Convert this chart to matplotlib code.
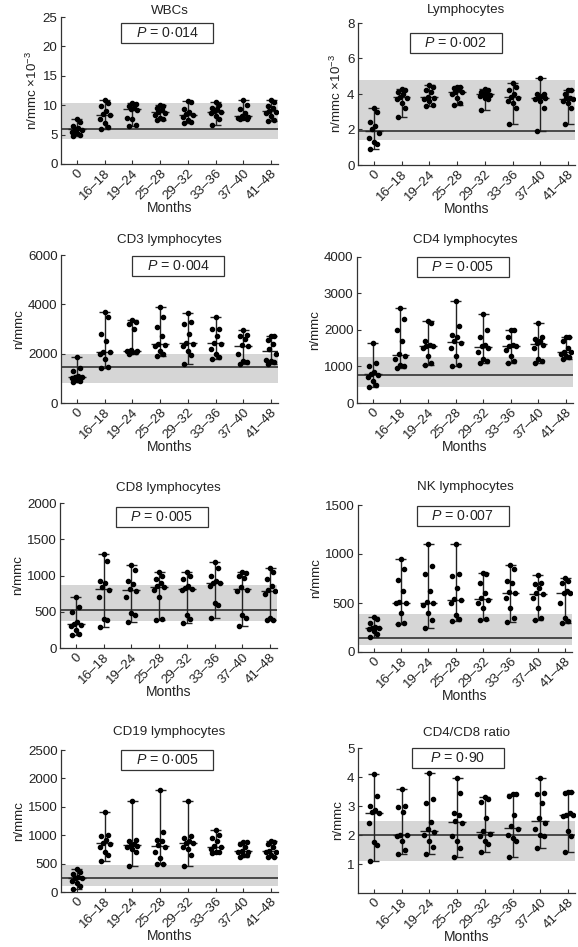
import numpy as np
import matplotlib
matplotlib.use("Agg")
import matplotlib.pyplot as plt
from matplotlib.patches import Rectangle

plt.rcParams['font.family'] = ['Liberation Sans', 'DejaVu Sans']
plt.rcParams['mathtext.fontset'] = 'custom'
plt.rcParams['mathtext.rm'] = 'Liberation Sans'
plt.rcParams['mathtext.it'] = 'Liberation Sans:italic'

months = ['0', '16–18', '19–24', '25–28', '29–32', '33–36', '37–40', '41–48']

titles = ['WBCs', 'Lymphocytes', 'CD3 lymphocytes', 'CD4 lymphocytes',
          'CD8 lymphocytes', 'NK lymphocytes', 'CD19 lymphocytes', 'CD4/CD8 ratio']
pvalues = ['0·014', '0·002', '0·004', '0·005', '0·005', '0·007', '0·005', '0·90']
ylabels = ['n/mmc ×10$^{-3}$', 'n/mmc ×10$^{-3}$', 'n/mmc', 'n/mmc',
           'n/mmc', 'n/mmc', 'n/mmc', 'n/mmc']

# reference range (band low, band high) and reference line
ref_low = [4.2, 1.4, 800, 450, 370, 70, 100, 1.1]
ref_high = [10.4, 4.8, 2000, 1250, 870, 390, 470, 2.5]
ref_line = [5.9, 1.9, 1450, 780, 530, 140, 250, 2.0]

yticks = [[0, 5, 10, 15, 20, 25], [0, 2, 4, 6, 8], [0, 2000, 4000, 6000],
          [0, 1000, 2000, 3000, 4000], [0, 500, 1000, 1500, 2000],
          [0, 500, 1000, 1500], [0, 500, 1000, 1500, 2000, 2500], [1, 2, 3, 4, 5]]
ylims = [(0, 25), (0, 8), (0, 6000), (0, 4000), (0, 2000), (0, 1500), (0, 2500), (0, 5)]

wbc = [
    [4.8, 5.0, 5.2, 5.5, 5.8, 6.0, 6.1, 6.4, 7.2, 7.7],
    [6.0, 6.3, 7.0, 7.7, 8.3, 8.5, 9.0, 9.8, 10.4, 10.9],
    [6.5, 6.6, 7.7, 7.9, 9.2, 9.4, 9.5, 9.8, 10.2, 10.3],
    [7.4, 7.6, 7.8, 8.4, 8.7, 8.9, 9.2, 9.5, 9.8, 10.0],
    [6.9, 7.2, 7.5, 8.0, 8.3, 8.5, 8.8, 9.3, 10.5, 10.7],
    [6.7, 7.6, 8.2, 8.6, 8.8, 9.0, 9.3, 9.6, 10.0, 10.6],
    [7.6, 7.7, 7.8, 7.9, 8.0, 8.2, 8.6, 9.3, 10.0, 10.9],
    [7.3, 7.4, 8.1, 8.7, 8.9, 9.0, 9.5, 9.9, 10.6, 10.9],
]
lymph = [
    [0.9, 1.2, 1.3, 1.5, 1.8, 2.0, 2.2, 2.4, 3.0, 3.2],
    [2.7, 3.2, 3.5, 3.7, 3.8, 3.85, 4.0, 4.1, 4.2, 4.3],
    [3.3, 3.4, 3.6, 3.7, 3.8, 3.85, 4.1, 4.2, 4.4, 4.5],
    [3.4, 3.5, 3.8, 4.0, 4.1, 4.1, 4.3, 4.35, 4.4, 4.4],
    [3.1, 3.7, 3.8, 3.9, 3.95, 4.0, 4.0, 4.1, 4.2, 4.3],
    [2.3, 3.2, 3.5, 3.6, 3.8, 3.85, 4.0, 4.2, 4.4, 4.6],
    [1.9, 3.2, 3.6, 3.7, 3.8, 3.8, 3.9, 4.0, 4.0, 4.9],
    [2.3, 3.2, 3.5, 3.6, 3.7, 3.75, 3.8, 4.0, 4.2, 4.2],
]
cd3 = [
    [850, 900, 950, 1000, 1050, 1050, 1100, 1300, 1400, 1850],
    [1400, 1450, 1800, 2000, 2050, 2050, 2500, 2800, 3500, 3700],
    [2000, 2050, 2050, 2100, 2100, 2150, 3000, 3200, 3300, 3350],
    [1900, 2000, 2100, 2300, 2350, 2400, 2700, 3100, 3500, 3900],
    [1600, 1950, 2100, 2300, 2400, 2450, 2800, 3200, 3300, 3650],
    [1800, 1850, 2000, 2200, 2400, 2450, 2700, 3000, 3000, 3500],
    [1600, 1650, 1700, 2000, 2300, 2350, 2600, 2700, 2750, 2950],
    [1600, 1650, 1700, 1750, 2000, 2200, 2400, 2550, 2700, 2700],
]
cd4 = [
    [450, 500, 600, 700, 780, 790, 850, 1000, 1100, 1650],
    [950, 1000, 1050, 1200, 1300, 1350, 1700, 2000, 2300, 2600],
    [1050, 1100, 1300, 1500, 1550, 1560, 1600, 1700, 2200, 2250],
    [1000, 1050, 1300, 1500, 1650, 1700, 1800, 1850, 2100, 2800],
    [1100, 1150, 1200, 1400, 1500, 1550, 1600, 1800, 2000, 2450],
    [1100, 1150, 1300, 1450, 1550, 1560, 1600, 1800, 2000, 2000],
    [1100, 1150, 1200, 1500, 1600, 1650, 1700, 1750, 1800, 2200],
    [1200, 1250, 1300, 1350, 1400, 1400, 1500, 1700, 1800, 1800],
]
cd8 = [
    [180, 200, 250, 300, 320, 330, 360, 500, 560, 700],
    [290, 380, 400, 700, 800, 840, 900, 930, 1200, 1300],
    [360, 450, 480, 700, 790, 810, 880, 920, 1080, 1140],
    [390, 400, 700, 800, 840, 850, 900, 950, 1000, 1050],
    [350, 400, 450, 800, 810, 830, 850, 950, 1000, 1050],
    [410, 600, 620, 850, 900, 900, 920, 1000, 1100, 1190],
    [310, 420, 450, 780, 800, 840, 960, 1000, 1040, 1050],
    [380, 390, 420, 750, 780, 800, 850, 950, 1050, 1110],
]
nk = [
    [150, 180, 210, 230, 240, 240, 260, 300, 340, 360],
    [290, 300, 400, 500, 500, 510, 620, 730, 850, 950],
    [240, 330, 400, 480, 500, 510, 620, 800, 880, 1100],
    [320, 340, 380, 500, 530, 540, 650, 780, 800, 1100],
    [330, 340, 450, 500, 530, 550, 600, 700, 800, 810],
    [310, 350, 450, 550, 600, 610, 700, 720, 850, 890],
    [330, 350, 450, 550, 590, 600, 650, 690, 700, 790],
    [300, 320, 350, 500, 600, 600, 620, 700, 720, 760],
]
cd19 = [
    [60, 100, 150, 200, 240, 250, 260, 310, 350, 400],
    [550, 650, 700, 800, 850, 870, 920, 980, 1000, 1410],
    [450, 700, 750, 800, 810, 830, 850, 900, 920, 1600],
    [490, 500, 600, 700, 800, 820, 900, 920, 1060, 1800],
    [450, 650, 750, 800, 860, 870, 900, 950, 980, 1610],
    [680, 700, 700, 750, 790, 810, 900, 950, 1000, 1100],
    [620, 650, 660, 700, 710, 730, 800, 850, 880, 880],
    [620, 620, 650, 700, 710, 730, 800, 850, 880, 900],
]
ratio = [
    [1.1, 1.65, 1.75, 2.4, 2.75, 2.8, 2.85, 3.0, 3.35, 4.1],
    [1.35, 1.5, 1.8, 1.95, 2.0, 2.0, 2.8, 2.95, 3.0, 3.6],
    [1.35, 1.6, 1.8, 2.0, 2.1, 2.2, 2.45, 3.1, 3.25, 4.15],
    [1.25, 1.55, 1.8, 1.95, 2.4, 2.5, 2.7, 2.75, 3.45, 3.95],
    [1.4, 1.7, 1.8, 1.95, 2.05, 2.15, 2.6, 3.15, 3.25, 3.3],
    [1.25, 1.8, 1.9, 2.0, 2.2, 2.3, 2.7, 3.35, 3.4, 3.4],
    [1.55, 1.95, 2.0, 2.2, 2.4, 2.6, 3.1, 3.4, 3.45, 3.95],
    [1.4, 1.95, 2.15, 2.65, 2.7, 2.7, 2.75, 3.45, 3.5, 3.5],
]
datasets = [wbc, lymph, cd3, cd4, cd8, nk, cd19, ratio]

# layout (pixels, 578 x 947 figure)
W, H = 578, 947
axes_px = [  # left, top, right, bottom
    (61, 17, 278, 164), (358, 23, 575, 165),
    (61, 255, 278, 403), (357, 257, 573, 403),
    (60, 503, 277, 648), (358, 505, 572, 652),
    (61, 750, 278, 892), (358, 748, 575, 893),
]
title_pad = [2, 7, 9, 10, 9, 11, 11, 9]
box_cx = [0.49, 0.45, 0.54, 0.49, 0.47, 0.49, 0.49, 0.46]
box_top_px = [6, 10, 1, 0, 4, 1, 0, 0]

jitter = [-0.12, 0.12, 0.0, -0.18, 0.18, -0.06, 0.06, -0.12, 0.12, 0.0]

fig = plt.figure(figsize=(W / 100, H / 100), dpi=100)
fs = 9.6
dark = '#222222'

for i in range(8):
    l, t, r, b = axes_px[i]
    ax = fig.add_axes([l / W, 1 - b / H, (r - l) / W, (b - t) / H])
    ax.axhspan(ref_low[i], ref_high[i], color='#d6d6d6', lw=0, zorder=0)
    ax.axhline(ref_line[i], color='#4a4a4a', lw=1.4, zorder=1)
    for g, vals in enumerate(datasets[i]):
        vals = np.array(vals, dtype=float)
        order = np.argsort(vals)
        xs = np.empty(len(vals))
        for k, idx in enumerate(order):
            xs[idx] = g + jitter[k % len(jitter)]
        lo, hi, med = vals.min(), vals.max(), np.median(vals)
        ax.vlines(g, lo, hi, color=dark, lw=1.0, zorder=2)
        ax.hlines([lo, hi], g - 0.2, g + 0.2, color=dark, lw=1.0, zorder=2)
        ax.hlines(med, g - 0.32, g + 0.32, color=dark, lw=1.0, zorder=2)
        ax.plot(xs, vals, 'o', ms=3.0, color='black', zorder=3)
    ax.set_xlim(-0.57, 7.25)
    ax.set_ylim(*ylims[i])
    ax.set_yticks(yticks[i])
    ax.set_xticks(range(len(months)))
    ax.set_xticklabels(months, rotation=45, ha='right', rotation_mode='anchor')
    for s in ['top', 'right']:
        ax.spines[s].set_visible(False)
    for s in ['left', 'bottom']:
        ax.spines[s].set_color('#333333')
        ax.spines[s].set_linewidth(0.9)
    ax.tick_params(axis='both', direction='in', labelsize=fs, colors='#333333',
                   labelcolor=dark, length=3, width=0.8, pad=2.5)
    ax.set_xlabel('Months', fontsize=fs + 0.4, color=dark, labelpad=-1)
    ax.set_ylabel(ylabels[i], fontsize=fs, color=dark, labelpad=2)
    ax.set_title(titles[i], fontsize=fs, color=dark, pad=title_pad[i])
    # P-value box
    ah = b - t
    aw = r - l
    bw, bh = 92 / aw, 20 / ah
    by = 1 - (box_top_px[i] + 20) / ah
    ax.add_patch(Rectangle((box_cx[i] - bw / 2, by), bw, bh, transform=ax.transAxes,
                           fill=True, facecolor='white', edgecolor='#333333', lw=0.9,
                           zorder=5, clip_on=False))
    ax.text(box_cx[i], by + bh / 2, '$P$ = ' + pvalues[i], transform=ax.transAxes,
            ha='center', va='center', fontsize=fs + 0.6, color=dark, zorder=6)

fig.savefig('out.png', dpi=100)
